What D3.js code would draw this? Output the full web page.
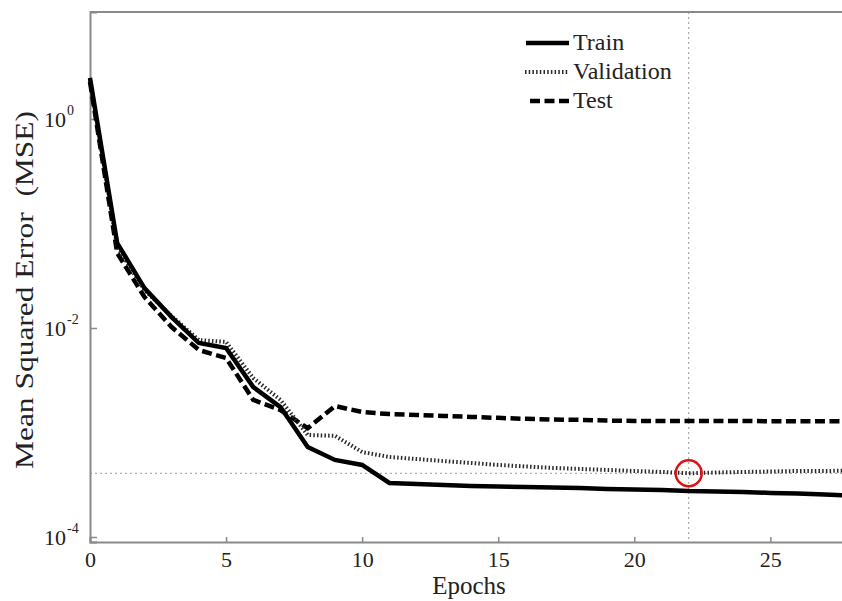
<!DOCTYPE html>
<html>
<head>
<meta charset="utf-8">
<script src="https://cdn.jsdelivr.net/npm/d3@7"></script>
<style>
  html, body { margin: 0; padding: 0; background: #fff; }
  svg { display: block; }
  svg text { font-family: "Liberation Serif", "Times New Roman", Times, serif !important; fill: #222; }
</style>
</head>
<body>
<svg id="chart" width="842" height="601"></svg>
<script>
// ---- data ----
const epochs = [0,1,2,3,4,5,6,7,8,9,10,11,12,13,14,15,16,17,18,19,20,21,22,23,24,25,26,27,28];
const train = [2.47,0.065,0.0241,0.0127,0.00718,0.00644,0.00272,0.00175,0.000727,0.000546,0.000489,
  0.000329,0.000322,0.000315,0.000308,0.000304,0.000301,0.000298,0.000294,0.000288,0.000284,0.000282,
  0.000275,0.000272,0.000270,0.000264,0.000261,0.000255,0.000249];
const validation = [2.36,0.0596,0.0231,0.0130,0.00767,0.00735,0.00332,0.00205,0.000946,0.000930,0.000650,
  0.000583,0.000557,0.000533,0.000511,0.000489,0.000473,0.000458,0.000448,0.000438,0.000428,0.000419,
  0.000407,0.000414,0.000419,0.000423,0.000428,0.000428,0.000433];
const test = [2.26,0.0522,0.0198,0.0102,0.00616,0.00516,0.00205,0.00164,0.00110,0.00179,0.00157,
  0.00150,0.00147,0.00144,0.00141,0.00138,0.00135,0.00133,0.00132,0.00130,0.00129,0.00129,
  0.00129,0.00129,0.00129,0.00128,0.00128,0.00128,0.00128];
const bestEpoch = 22;
const bestValue = 0.000407;
const xTicks = [0,5,10,15,20,25];
const yTicks = [1, 1e-2, 1e-4];
const yTickExp = ["0","-2","-4"];
const seriesNames = ["Train","Validation","Test"];

(function () {
// ---- layout ----
const svg = d3.select("#chart");
const pLeft = 90, pRight = 852, pTop = 12, pBottom = 542;
const x = d3.scaleLinear().domain([0, 28]).range([pLeft, pRight]);
const y = d3.scaleLog().domain([Math.pow(10, -4.048), Math.pow(10, 1.024)]).range([pBottom, pTop]);
const axisColor = "#8a8a8a";
const serif = '"Liberation Serif", "Times New Roman", Times, serif';

// reference dotted lines
svg.append("line")
  .attr("x1", x(0)).attr("x2", x(28)).attr("y1", y(bestValue)).attr("y2", y(bestValue))
  .attr("stroke", "#999").attr("stroke-width", 1).attr("stroke-dasharray", "2,3");
svg.append("line")
  .attr("x1", x(bestEpoch)).attr("x2", x(bestEpoch)).attr("y1", pTop).attr("y2", pBottom)
  .attr("stroke", "#999").attr("stroke-width", 1).attr("stroke-dasharray", "2,3");

// axes
const gx = svg.append("g").attr("transform", `translate(0,${pBottom})`)
  .call(d3.axisBottom(x).tickValues(xTicks).tickSize(-5).tickPadding(9).tickFormat(d3.format("d")));
gx.attr("font-family", serif);
gx.select(".domain").attr("stroke", axisColor).attr("stroke-width", 2);
gx.selectAll(".tick line").attr("stroke", axisColor).attr("stroke-width", 1.5);
gx.selectAll(".tick text").attr("font-size", 22).style("font-family", serif).attr("fill", "#222");

const gy = svg.append("g").attr("transform", `translate(${pLeft},0)`)
  .call(d3.axisLeft(y).tickValues(yTicks).tickSize(-7).tickFormat(""));
gy.select(".domain").attr("stroke", axisColor).attr("stroke-width", 2);
gy.selectAll(".tick line").attr("stroke", axisColor).attr("stroke-width", 1.5);

// top border
svg.append("line").attr("x1", pLeft).attr("x2", pRight).attr("y1", pTop).attr("y2", pTop)
  .attr("stroke", axisColor).attr("stroke-width", 2);

// y tick labels with superscripts
yTicks.forEach((v, i) => {
  svg.append("text")
    .attr("x", 66).attr("y", y(v) + 8)
    .attr("text-anchor", "end").attr("font-size", 22).style("font-family", serif).text("10");
  svg.append("text").attr("x", 67).attr("y", y(v) - 4)
    .attr("font-size", 14).style("font-family", serif).text(yTickExp[i]);
});

// lines
const line = d3.line().x((d, i) => x(epochs[i])).y(d => y(d));
svg.append("path").datum(test).attr("d", line).attr("fill", "none")
  .attr("stroke", "#000").attr("stroke-width", 4.5).attr("stroke-dasharray", "10,4.5");
svg.append("path").datum(validation).attr("d", line).attr("fill", "none")
  .attr("stroke", "#2a2a2a").attr("stroke-width", 4).attr("stroke-dasharray", "1.5,2.2");
svg.append("path").datum(train).attr("d", line).attr("fill", "none")
  .attr("stroke", "#000").attr("stroke-width", 4.5);

// best circle
svg.append("circle").attr("cx", x(bestEpoch)).attr("cy", y(bestValue)).attr("r", 13)
  .attr("fill", "none").attr("stroke", "#e01010").attr("stroke-width", 2.5);

// legend
const legendStyles = [
  {dash: null, w: 4.5, c: "#000", x1: 526},
  {dash: "1.5,2.2", w: 4, c: "#2a2a2a", x1: 525},
  {dash: "10,4.5", w: 4.5, c: "#000", x1: 530}
];
const legendY = [43, 72, 101];
seriesNames.forEach((name, i) => {
  const s = legendStyles[i];
  const l = svg.append("line").attr("x1", s.x1).attr("x2", 569)
    .attr("y1", legendY[i]).attr("y2", legendY[i])
    .attr("stroke", s.c).attr("stroke-width", s.w);
  if (s.dash) l.attr("stroke-dasharray", s.dash);
  svg.append("text").attr("x", 573).attr("y", legendY[i] + 7).attr("font-size", 24)
    .style("font-family", serif).text(name);
});

// axis labels
svg.append("text").attr("x", 469).attr("y", 594).attr("text-anchor", "middle")
  .attr("font-size", 25).style("font-family", serif).text("Epochs");
svg.append("text").attr("transform", "translate(33,290) rotate(-90)")
  .attr("text-anchor", "middle").attr("font-size", 25).style("font-family", serif)
  .attr("textLength", 358).attr("lengthAdjust", "spacingAndGlyphs")
  .attr("xml:space", "preserve")
  .text("Mean Squared Error  (MSE)");
})();
</script>
</body>
</html>
